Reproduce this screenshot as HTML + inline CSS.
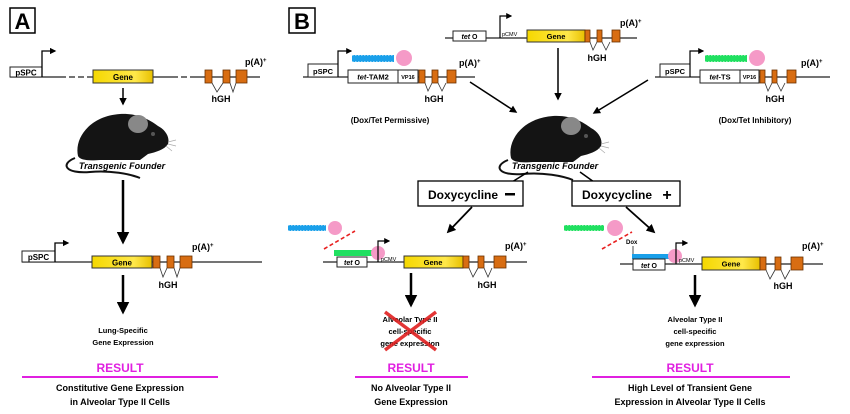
<!DOCTYPE html>
<html><head><meta charset="utf-8"><style>
html,body{margin:0;padding:0;background:#fff;}
svg{display:block;font-family:"Liberation Sans",Arial,sans-serif;}
</style></head><body>
<svg width="850" height="414" viewBox="0 0 850 414" xmlns="http://www.w3.org/2000/svg">
<defs>
<linearGradient id="gy" x1="0" x2="1"><stop offset="0" stop-color="#f5d800"/><stop offset="0.7" stop-color="#ffe84a"/><stop offset="1" stop-color="#e8c000"/></linearGradient>
<marker id="ah" viewBox="0 0 10 10" refX="8" refY="5" markerWidth="5" markerHeight="5" orient="auto"><path d="M0,0L10,5L0,10z" fill="#000"/></marker>
<g id="mouse">
<path d="M-45,30 C-60,36 -55,46 -30,44 C-10,42 10,46 20,50" fill="none" stroke="#111" stroke-width="2"/>
<path d="M-42,28 C-46,10 -30,-12 0,-14 C18,-15 30,-8 38,-2 C46,2 50,10 48,16 C44,22 36,24 28,26 L20,32 L-20,32 C-32,33 -40,32 -42,28z" fill="#141414"/>
<ellipse cx="18" cy="-4" rx="10" ry="9" fill="#888"/>
<circle cx="33" cy="6" r="2" fill="#555"/>
<path d="M48,14 l8,-2 M48,16 l8,2 M46,18 l6,5" stroke="#aaa" stroke-width="0.7"/>
</g>
</defs>

<!-- Panel A -->
<rect x="10" y="8" width="25" height="25" fill="#fff" stroke="#000" stroke-width="1.5"/>
<text x="22.5" y="29" font-size="22" font-weight="bold" text-anchor="middle">A</text>

<line x1="10" y1="77" x2="60" y2="77" stroke="#222" stroke-width="1.3"/>
<line x1="60" y1="77" x2="93" y2="77" stroke="#222" stroke-width="1.3" stroke-dasharray="6,3"/>
<line x1="153" y1="77" x2="172" y2="77" stroke="#222" stroke-width="1.3"/>
<line x1="172" y1="77" x2="195" y2="77" stroke="#222" stroke-width="1.3" stroke-dasharray="6,3"/>
<line x1="195" y1="77" x2="260" y2="77" stroke="#222" stroke-width="1.3"/>
<rect x="10" y="67" width="32" height="10" fill="#fff" stroke="#222"/>
<text x="26" y="75.5" font-size="8" font-weight="bold" text-anchor="middle">pSPC</text>
<path d="M42,77 V51 H55" fill="none" stroke="#000" stroke-width="1.3" marker-end="url(#ah)"/>
<rect x="93" y="70" width="60" height="13" fill="url(#gy)" stroke="#333"/>
<text x="123" y="80" font-size="8" font-weight="bold" text-anchor="middle">Gene</text>
<g fill="#d86d12" stroke="#6a3000" stroke-width="0.8"><rect x="205" y="70" width="7" height="13"/><rect x="223" y="70" width="7" height="13"/><rect x="236" y="70" width="11" height="13"/></g>
<path d="M212,83 L217,92 L223,83 M230,83 L233,92 L236,83" fill="none" stroke="#333" stroke-width="0.8"/>
<text x="245" y="65" font-size="9" font-weight="bold">p(A)<tspan font-size="6" dy="-3">+</tspan></text>
<text x="221" y="102" font-size="9" font-weight="bold" text-anchor="middle">hGH</text>
<line x1="123" y1="88" x2="123" y2="104" stroke="#000" stroke-width="1.5" marker-end="url(#ah)"/>
<use href="#mouse" transform="translate(120,128)"/>
<text x="122" y="169" font-size="9" font-weight="bold" font-style="italic" text-anchor="middle">Transgenic Founder</text>
<line x1="123" y1="180" x2="123" y2="242" stroke="#000" stroke-width="2.5" marker-end="url(#ah)"/>

<line x1="22" y1="262" x2="262" y2="262" stroke="#222" stroke-width="1.3"/>
<rect x="22" y="251" width="33" height="11" fill="#fff" stroke="#222"/>
<text x="38.5" y="260" font-size="8" font-weight="bold" text-anchor="middle">pSPC</text>
<path d="M55,262 V243 H68" fill="none" stroke="#000" stroke-width="1.3" marker-end="url(#ah)"/>
<rect x="92" y="256" width="60" height="12" fill="url(#gy)" stroke="#333"/>
<text x="122" y="265.5" font-size="8" font-weight="bold" text-anchor="middle">Gene</text>
<g fill="#d86d12" stroke="#6a3000" stroke-width="0.8"><rect x="153" y="256" width="7" height="12"/><rect x="167" y="256" width="7" height="12"/><rect x="180" y="256" width="12" height="12"/></g>
<path d="M160,268 L163,277 L167,268 M174,268 L177,277 L180,268" fill="none" stroke="#333" stroke-width="0.8"/>
<text x="192" y="250" font-size="9" font-weight="bold">p(A)<tspan font-size="6" dy="-3">+</tspan></text>
<text x="168" y="288" font-size="9" font-weight="bold" text-anchor="middle">hGH</text>
<line x1="123" y1="275" x2="123" y2="312" stroke="#000" stroke-width="2.5" marker-end="url(#ah)"/>
<text x="123" y="333" font-size="7.5" font-weight="bold" text-anchor="middle">Lung-Specific</text>
<text x="123" y="345" font-size="7.5" font-weight="bold" text-anchor="middle">Gene Expression</text>
<text x="120" y="372" font-size="12" font-weight="bold" fill="#e020e0" text-anchor="middle">RESULT</text>
<line x1="22" y1="377" x2="218" y2="377" stroke="#e020e0" stroke-width="2"/>
<text x="120" y="391" font-size="9" font-weight="bold" text-anchor="middle">Constitutive Gene Expression</text>
<text x="120" y="405" font-size="9" font-weight="bold" text-anchor="middle">in Alveolar Type II Cells</text>

<!-- Panel B -->
<rect x="289" y="8" width="26" height="25" fill="#fff" stroke="#000" stroke-width="1.5"/>
<text x="302" y="29" font-size="22" font-weight="bold" text-anchor="middle">B</text>

<line x1="445" y1="38" x2="637" y2="38" stroke="#222" stroke-width="1.3"/>
<rect x="453" y="31" width="33" height="10" fill="#fff" stroke="#222"/>
<text x="469.5" y="39" font-size="7" font-weight="bold" text-anchor="middle"><tspan font-style="italic">tet</tspan> O</text>
<path d="M500,38 V16 H511" fill="none" stroke="#000" stroke-width="1.2" marker-end="url(#ah)"/>
<text x="502" y="36" font-size="5.5">pCMV</text>
<rect x="527" y="30" width="58" height="12" fill="url(#gy)" stroke="#333"/>
<text x="556" y="39" font-size="7.5" font-weight="bold" text-anchor="middle">Gene</text>
<g fill="#d86d12" stroke="#6a3000" stroke-width="0.8"><rect x="585" y="30" width="5" height="12"/><rect x="597" y="30" width="5" height="12"/><rect x="612" y="30" width="8" height="12"/></g>
<path d="M590,42 L593,50 L597,42 M602,42 L606,50 L610,42" fill="none" stroke="#333" stroke-width="0.8"/>
<text x="620" y="26" font-size="9" font-weight="bold">p(A)<tspan font-size="6" dy="-3">+</tspan></text>
<text x="597" y="61" font-size="9" font-weight="bold" text-anchor="middle">hGH</text>
<line x1="558" y1="48" x2="558" y2="99" stroke="#000" stroke-width="1.5" marker-end="url(#ah)"/>

<line x1="303" y1="77" x2="475" y2="77" stroke="#222" stroke-width="1.3"/>
<rect x="308" y="64" width="30" height="13" fill="#fff" stroke="#222"/>
<text x="323" y="74" font-size="7.5" font-weight="bold" text-anchor="middle">pSPC</text>
<path d="M338,77 V51 H351" fill="none" stroke="#000" stroke-width="1.2" marker-end="url(#ah)"/>
<rect x="352" y="55" width="42" height="7" fill="#1aa0ea"/>
<line x1="352" y1="55" x2="394" y2="55" stroke="#fff" stroke-width="1" stroke-dasharray="1.5,1.5"/>
<line x1="352" y1="62" x2="394" y2="62" stroke="#fff" stroke-width="1" stroke-dasharray="1.5,1.5"/>
<circle cx="404" cy="58" r="8" fill="#f59ac7"/>
<rect x="348" y="70" width="50" height="13" fill="#fff" stroke="#222"/>
<text x="373" y="79.5" font-size="7.5" font-weight="bold" text-anchor="middle"><tspan font-style="italic">tet</tspan>-TAM2</text>
<rect x="398" y="70" width="20" height="13" fill="#fff" stroke="#222"/>
<text x="408" y="79" font-size="5.5" font-weight="bold" text-anchor="middle">VP16</text>
<g fill="#d86d12" stroke="#6a3000" stroke-width="0.8"><rect x="419" y="70" width="6" height="13"/><rect x="432" y="70" width="6" height="13"/><rect x="447" y="70" width="9" height="13"/></g>
<path d="M425,83 L428,91 L432,83 M438,83 L442,91 L446,83" fill="none" stroke="#333" stroke-width="0.8"/>
<text x="459" y="66" font-size="9" font-weight="bold">p(A)<tspan font-size="6" dy="-3">+</tspan></text>
<text x="434" y="102" font-size="9" font-weight="bold" text-anchor="middle">hGH</text>
<text x="390" y="123" font-size="8" font-weight="bold" text-anchor="middle">(Dox/Tet Permissive)</text>
<line x1="470" y1="82" x2="516" y2="112" stroke="#000" stroke-width="1.5" marker-end="url(#ah)"/>

<line x1="655" y1="77" x2="830" y2="77" stroke="#222" stroke-width="1.3"/>
<rect x="660" y="64" width="30" height="13" fill="#fff" stroke="#222"/>
<text x="675" y="74" font-size="7.5" font-weight="bold" text-anchor="middle">pSPC</text>
<path d="M690,77 V51 H703" fill="none" stroke="#000" stroke-width="1.2" marker-end="url(#ah)"/>
<rect x="705" y="55" width="42" height="7" fill="#20e060"/>
<line x1="705" y1="55" x2="747" y2="55" stroke="#fff" stroke-width="1" stroke-dasharray="1.5,1.5"/>
<line x1="705" y1="62" x2="747" y2="62" stroke="#fff" stroke-width="1" stroke-dasharray="1.5,1.5"/>
<circle cx="757" cy="58" r="8" fill="#f59ac7"/>
<rect x="700" y="70" width="40" height="13" fill="#fff" stroke="#222"/>
<text x="720" y="79.5" font-size="7.5" font-weight="bold" text-anchor="middle"><tspan font-style="italic">tet</tspan>-TS</text>
<rect x="740" y="70" width="19" height="13" fill="#fff" stroke="#222"/>
<text x="749.5" y="79" font-size="5.5" font-weight="bold" text-anchor="middle">VP16</text>
<g fill="#d86d12" stroke="#6a3000" stroke-width="0.8"><rect x="760" y="70" width="5" height="13"/><rect x="772" y="70" width="5" height="13"/><rect x="787" y="70" width="9" height="13"/></g>
<path d="M765,83 L768,91 L772,83 M777,83 L781,91 L785,83" fill="none" stroke="#333" stroke-width="0.8"/>
<text x="801" y="66" font-size="9" font-weight="bold">p(A)<tspan font-size="6" dy="-3">+</tspan></text>
<text x="775" y="102" font-size="9" font-weight="bold" text-anchor="middle">hGH</text>
<text x="755" y="123" font-size="8" font-weight="bold" text-anchor="middle">(Dox/Tet Inhibitory)</text>
<line x1="648" y1="80" x2="594" y2="113" stroke="#000" stroke-width="1.5" marker-end="url(#ah)"/>

<use href="#mouse" transform="translate(553,130)"/>
<text x="555" y="169" font-size="9" font-weight="bold" font-style="italic" text-anchor="middle">Transgenic Founder</text>
<line x1="528" y1="172" x2="512" y2="182" stroke="#000" stroke-width="1.5"/>
<line x1="580" y1="172" x2="594" y2="182" stroke="#000" stroke-width="1.5"/>

<rect x="418" y="181" width="105" height="25" fill="#fff" stroke="#000" stroke-width="1.3"/>
<text x="428" y="199" font-size="12" font-weight="bold">Doxycycline</text>
<rect x="505" y="193" width="10" height="2.5" fill="#000"/>
<rect x="572" y="181" width="108" height="25" fill="#fff" stroke="#000" stroke-width="1.3"/>
<text x="582" y="199" font-size="12" font-weight="bold">Doxycycline</text>
<text x="667" y="200" font-size="16" font-weight="bold" text-anchor="middle">+</text>
<line x1="472" y1="207" x2="448" y2="232" stroke="#000" stroke-width="1.8" marker-end="url(#ah)"/>
<line x1="626" y1="207" x2="654" y2="232" stroke="#000" stroke-width="1.8" marker-end="url(#ah)"/>

<rect x="288" y="225" width="38" height="6" fill="#1aa0ea"/>
<line x1="288" y1="225" x2="326" y2="225" stroke="#fff" stroke-width="1" stroke-dasharray="1.5,1.5"/>
<line x1="288" y1="231" x2="326" y2="231" stroke="#fff" stroke-width="1" stroke-dasharray="1.5,1.5"/>
<circle cx="335" cy="228" r="7" fill="#f59ac7"/>
<line x1="324" y1="249" x2="355" y2="231" stroke="#e82020" stroke-width="1.6" stroke-dasharray="4,2.5"/>
<line x1="323" y1="262" x2="527" y2="262" stroke="#222" stroke-width="1.3"/>
<rect x="334" y="250" width="38" height="6" fill="#20e060"/>
<circle cx="378" cy="253" r="7" fill="#f59ac7"/>
<rect x="337" y="257" width="30" height="10" fill="#fff" stroke="#222"/>
<text x="352" y="265" font-size="7" font-weight="bold" text-anchor="middle"><tspan font-style="italic">tet</tspan> O</text>
<path d="M378,262 V241 H389" fill="none" stroke="#000" stroke-width="1.2" marker-end="url(#ah)"/>
<text x="381" y="261" font-size="5.5">pCMV</text>
<rect x="404" y="256" width="59" height="12" fill="url(#gy)" stroke="#333"/>
<text x="433" y="265" font-size="7.5" font-weight="bold" text-anchor="middle">Gene</text>
<g fill="#d86d12" stroke="#6a3000" stroke-width="0.8"><rect x="463" y="256" width="6" height="12"/><rect x="478" y="256" width="6" height="12"/><rect x="494" y="256" width="12" height="12"/></g>
<path d="M469,268 L473,277 L478,268 M484,268 L488,277 L492,268" fill="none" stroke="#333" stroke-width="0.8"/>
<text x="505" y="249" font-size="9" font-weight="bold">p(A)<tspan font-size="6" dy="-3">+</tspan></text>
<text x="487" y="288" font-size="9" font-weight="bold" text-anchor="middle">hGH</text>
<line x1="411" y1="273" x2="411" y2="305" stroke="#000" stroke-width="2.5" marker-end="url(#ah)"/>
<text x="410" y="322" font-size="7.5" font-weight="bold" text-anchor="middle">Alveolar Type II</text>
<text x="410" y="334" font-size="7.5" font-weight="bold" text-anchor="middle">cell-specific</text>
<text x="410" y="346" font-size="7.5" font-weight="bold" text-anchor="middle">gene expression</text>
<path d="M385,312 L436,350 M436,312 L385,350" stroke="#e02020" stroke-width="3.5" opacity="0.9"/>
<text x="411" y="372" font-size="12" font-weight="bold" fill="#e020e0" text-anchor="middle">RESULT</text>
<line x1="355" y1="377" x2="468" y2="377" stroke="#e020e0" stroke-width="2"/>
<text x="411" y="391" font-size="9" font-weight="bold" text-anchor="middle">No Alveolar Type II</text>
<text x="411" y="405" font-size="9" font-weight="bold" text-anchor="middle">Gene Expression</text>

<rect x="564" y="225" width="40" height="6" fill="#20e060"/>
<line x1="564" y1="225" x2="604" y2="225" stroke="#fff" stroke-width="1" stroke-dasharray="1.5,1.5"/>
<line x1="564" y1="231" x2="604" y2="231" stroke="#fff" stroke-width="1" stroke-dasharray="1.5,1.5"/>
<circle cx="615" cy="228" r="8" fill="#f59ac7"/>
<line x1="602" y1="249" x2="632" y2="232" stroke="#e82020" stroke-width="1.6" stroke-dasharray="4,2.5"/>
<text x="626" y="244" font-size="6" font-weight="bold">Dox</text>
<line x1="633" y1="246" x2="633" y2="254" stroke="#222" stroke-width="0.8"/>
<line x1="620" y1="264" x2="823" y2="264" stroke="#222" stroke-width="1.3"/>
<rect x="632" y="254" width="38" height="5" fill="#1aa0ea"/>
<circle cx="675" cy="256" r="7" fill="#f59ac7"/>
<rect x="633" y="259" width="32" height="11" fill="#fff" stroke="#222"/>
<text x="649" y="268" font-size="7" font-weight="bold" text-anchor="middle"><tspan font-style="italic">tet</tspan> O</text>
<path d="M676,264 V243 H687" fill="none" stroke="#000" stroke-width="1.2" marker-end="url(#ah)"/>
<text x="679" y="262" font-size="5.5">pCMV</text>
<rect x="702" y="257" width="58" height="13" fill="url(#gy)" stroke="#333"/>
<text x="731" y="266.5" font-size="7.5" font-weight="bold" text-anchor="middle">Gene</text>
<g fill="#d86d12" stroke="#6a3000" stroke-width="0.8"><rect x="760" y="257" width="6" height="13"/><rect x="775" y="257" width="6" height="13"/><rect x="791" y="257" width="12" height="13"/></g>
<path d="M766,270 L770,279 L775,270 M781,270 L785,279 L790,270" fill="none" stroke="#333" stroke-width="0.8"/>
<text x="802" y="249" font-size="9" font-weight="bold">p(A)<tspan font-size="6" dy="-3">+</tspan></text>
<text x="783" y="289" font-size="9" font-weight="bold" text-anchor="middle">hGH</text>
<line x1="695" y1="275" x2="695" y2="305" stroke="#000" stroke-width="2.5" marker-end="url(#ah)"/>
<text x="695" y="322" font-size="7.5" font-weight="bold" text-anchor="middle">Alveolar Type II</text>
<text x="695" y="334" font-size="7.5" font-weight="bold" text-anchor="middle">cell-specific</text>
<text x="695" y="346" font-size="7.5" font-weight="bold" text-anchor="middle">gene expression</text>
<text x="690" y="372" font-size="12" font-weight="bold" fill="#e020e0" text-anchor="middle">RESULT</text>
<line x1="592" y1="377" x2="790" y2="377" stroke="#e020e0" stroke-width="2"/>
<text x="690" y="391" font-size="9" font-weight="bold" text-anchor="middle">High Level of Transient Gene</text>
<text x="690" y="405" font-size="9" font-weight="bold" text-anchor="middle">Expression in Alveolar Type II Cells</text>
</svg>
</body></html>
